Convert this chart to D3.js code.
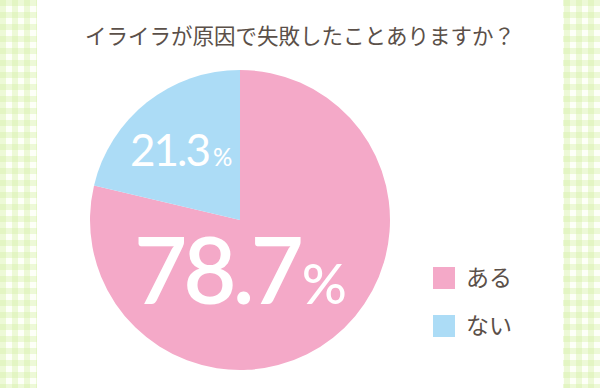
<!DOCTYPE html>
<html>
<head>
<meta charset="utf-8">
<script src="https://cdn.jsdelivr.net/npm/d3@7"></script>
<style>
  body { margin: 0; background: #fff; }
  svg { display: block; font-family: "Noto Sans CJK JP", "Noto Sans", sans-serif; }
</style>
</head>
<body>
<svg id="chart" width="600" height="388"></svg>
<script>
// answers and shares (percent)
var labels = ["ある", "ない"];
var values = [78.7, 21.3];
var colors = ["#f4a9c8", "#acdcf6"];
var title = "イライラが原因で失敗したことありますか？";

var svg = d3.select("#chart");
var W = 600, H = 388;

// gingham side strips
var defs = svg.append("defs");
var pat = defs.append("pattern")
    .attr("id", "gingham")
    .attr("width", 12).attr("height", 12)
    .attr("patternUnits", "userSpaceOnUse");
pat.append("rect").attr("width", 12).attr("height", 12).attr("fill", "#fdfff8");
pat.append("rect").attr("x", 0).attr("width", 6).attr("height", 12).attr("fill", "#d4f0a6").attr("opacity", 0.4);
pat.append("rect").attr("y", 0).attr("width", 12).attr("height", 6).attr("fill", "#d4f0a6").attr("opacity", 0.4);

svg.append("rect").attr("x", 0).attr("y", 0).attr("width", 37).attr("height", H).attr("fill", "url(#gingham)");
svg.append("rect").attr("x", 563).attr("y", 0).attr("width", 37).attr("height", H).attr("fill", "url(#gingham)");

svg.append("text")
    .attr("x", 300).attr("y", 44)
    .attr("text-anchor", "middle")
    .attr("font-size", 21.5)
    .attr("fill", "#5b5049")
    .text(title);

// pie
var cx = 240, cy = 220, r = 150;
var pie = d3.pie().sort(null).value(d => d)
    .startAngle(0).endAngle(2 * Math.PI);
var arcs = pie(values);
var arc = d3.arc().innerRadius(0).outerRadius(r);

var g = svg.append("g").attr("transform", "translate(" + cx + "," + cy + ")");
g.selectAll("path")
    .data(arcs)
    .enter().append("path")
    .attr("d", arc)
    .attr("fill", (d, i) => colors[i]);

// percent labels
var lab = [
  {x: 134, y: 304, big: 92, small: 56, w: 600, ls: -4, dx: 2},
  {x: 130, y: 166, big: 44, small: 24, w: 400, ls: -2, dx: 4}
];
arcs.forEach(function(a, i) {
  var t = svg.append("text")
      .attr("x", lab[i].x).attr("y", lab[i].y)
      .attr("fill", "#fff")
      .attr("font-family", "Lato, 'Noto Sans', sans-serif")
      .attr("font-weight", lab[i].w);
  t.append("tspan").attr("font-size", lab[i].big).attr("letter-spacing", lab[i].ls).text(values[i]);
  t.append("tspan").attr("font-size", lab[i].small).attr("font-weight", 500).attr("dx", lab[i].dx).text("%");
});

// legend
var leg = svg.append("g").attr("transform", "translate(433,267)");
labels.forEach(function(l, i) {
  var row = leg.append("g").attr("transform", "translate(0," + (i * 48) + ")");
  row.append("rect").attr("width", 22).attr("height", 22).attr("fill", colors[i]);
  row.append("text").attr("x", 33).attr("y", 19)
      .attr("font-size", 23).attr("fill", "#5b5049").text(l);
});
</script>
</body>
</html>
